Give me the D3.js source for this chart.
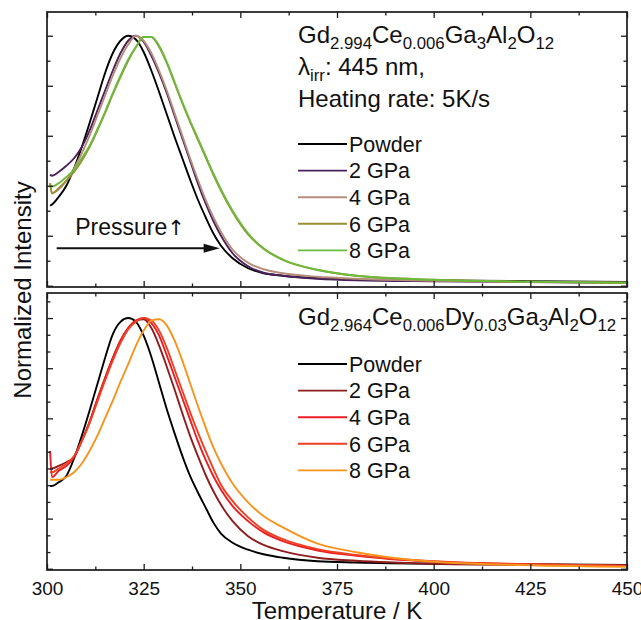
<!DOCTYPE html>
<html>
<head>
<meta charset="utf-8">
<script src="https://cdn.jsdelivr.net/npm/d3@7"></script>
<style>
  body { margin: 0; background: #fff; }
  text { font-family: "Liberation Sans", Arial, sans-serif; fill: #111; }
</style>
</head>
<body>
<script>
// temperature grid (K), shared by all curves
var temps = [300.8, 301.3, 303, 305, 307, 309, 311, 313, 315, 317, 319, 321, 323, 325, 327, 329,
             331, 333, 335, 337, 339, 341, 343, 345, 348, 352, 356, 361, 370, 380, 400, 425, 450];

// Gd2.994Ce0.006Ga3Al2O12
var topPowder = [0.32, 0.325, 0.355, 0.40, 0.47, 0.555, 0.65, 0.75, 0.85, 0.93, 0.98, 1.0, 0.985, 0.935, 0.86, 0.775,
                 0.685, 0.595, 0.51, 0.425, 0.345, 0.275, 0.21, 0.16, 0.11, 0.07, 0.05, 0.04, 0.03, 0.025, 0.022, 0.018, 0.015];
var top2GPa = [0.445, 0.44, 0.455, 0.48, 0.51, 0.555, 0.62, 0.70, 0.78, 0.86, 0.93, 0.98, 1.0, 0.975, 0.92, 0.85,
               0.77, 0.68, 0.59, 0.50, 0.41, 0.33, 0.26, 0.20, 0.13, 0.078, 0.052, 0.04, 0.028, 0.022, 0.018, 0.015, 0.012];
var top4GPa = [0.41, 0.37, 0.385, 0.42, 0.47, 0.53, 0.60, 0.68, 0.76, 0.84, 0.91, 0.965, 1.0, 0.98, 0.93, 0.86,
               0.78, 0.69, 0.60, 0.51, 0.425, 0.345, 0.275, 0.215, 0.145, 0.092, 0.066, 0.05, 0.036, 0.028, 0.02, 0.015, 0.012];
var top6GPa = [0.41, 0.37, 0.39, 0.42, 0.455, 0.50, 0.555, 0.62, 0.69, 0.765, 0.835, 0.90, 0.955, 0.995, 0.995, 0.955,
               0.89, 0.81, 0.73, 0.655, 0.585, 0.515, 0.445, 0.38, 0.295, 0.205, 0.148, 0.103, 0.063, 0.04, 0.024, 0.016, 0.012];
var top8GPa = [0.40, 0.397, 0.41, 0.435, 0.465, 0.51, 0.56, 0.625, 0.695, 0.77, 0.84, 0.905, 0.955, 0.995, 0.995, 0.96,
               0.895, 0.815, 0.735, 0.66, 0.59, 0.52, 0.45, 0.385, 0.30, 0.21, 0.15, 0.105, 0.064, 0.04, 0.024, 0.016, 0.012];

// Gd2.964Ce0.006Dy0.03Ga3Al2O12
var botPowder = [0.33, 0.33, 0.345, 0.37, 0.44, 0.53, 0.63, 0.735, 0.84, 0.935, 0.985, 1.0, 0.985, 0.93, 0.845, 0.74,
                 0.635, 0.54, 0.45, 0.37, 0.305, 0.245, 0.185, 0.14, 0.104, 0.076, 0.058, 0.044, 0.03, 0.025, 0.02, 0.018, 0.015];
var bot2GPa = [0.40, 0.40, 0.41, 0.425, 0.445, 0.51, 0.585, 0.675, 0.76, 0.84, 0.91, 0.96, 0.99, 0.995, 0.96, 0.89,
               0.805, 0.715, 0.62, 0.53, 0.45, 0.375, 0.31, 0.255, 0.19, 0.13, 0.095, 0.07, 0.044, 0.032, 0.02, 0.015, 0.012];
var bot4GPa = [0.47, 0.365, 0.39, 0.41, 0.445, 0.51, 0.585, 0.675, 0.76, 0.84, 0.91, 0.96, 0.99, 1.0, 0.98, 0.93,
               0.85, 0.765, 0.68, 0.595, 0.51, 0.435, 0.37, 0.315, 0.25, 0.19, 0.145, 0.11, 0.073, 0.052, 0.028, 0.017, 0.012];
var bot6GPa = [0.385, 0.385, 0.40, 0.42, 0.45, 0.51, 0.58, 0.665, 0.75, 0.83, 0.90, 0.955, 0.985, 1.0, 0.99, 0.95,
               0.88, 0.795, 0.71, 0.625, 0.545, 0.47, 0.40, 0.335, 0.27, 0.205, 0.155, 0.118, 0.078, 0.055, 0.03, 0.018, 0.012];
var bot8GPa = [0.355, 0.355, 0.355, 0.365, 0.385, 0.42, 0.47, 0.53, 0.60, 0.67, 0.745, 0.816, 0.89, 0.95, 0.99, 0.995,
               0.97, 0.91, 0.83, 0.74, 0.65, 0.565, 0.485, 0.42, 0.34, 0.265, 0.21, 0.165, 0.10, 0.066, 0.028, 0.014, 0.008];

var seriesNames = ["Powder", "2 GPa", "4 GPa", "6 GPa", "8 GPa"];
var xTicks = [300, 325, 350, 375, 400, 425, 450];

var topColors = ["#000000", "#4b2159", "#b68c7b", "#9a8f35", "#6dbb3c"];
var botColors = ["#000000", "#8e1d1d", "#ec1c24", "#ee4123", "#f7941d"];

var topTitle = [["Gd", 0], ["2.994", 1], ["Ce", 0], ["0.006", 1], ["Ga", 0], ["3", 1], ["Al", 0], ["2", 1], ["O", 0], ["12", 1]];
var botTitle = [["Gd", 0], ["2.964", 1], ["Ce", 0], ["0.006", 1], ["Dy", 0], ["0.03", 1], ["Ga", 0], ["3", 1], ["Al", 0], ["2", 1], ["O", 0], ["12", 1]];

var width = 641, height = 620;

var svg = d3.select("body").append("svg")
    .attr("width", width)
    .attr("height", height);

var x = d3.scaleLinear().domain([300, 450]).range([47, 627]);
var yTop = d3.scaleLinear().domain([-0.005, 1.095]).range([287, 12]);
var yBot = d3.scaleLinear().domain([-0.005, 1.1]).range([570, 293]);

var xMinor = d3.range(312.5, 450, 25);

function drawPanel(name, y, curves, colors, yMajor, yMinor, labels) {
    var y0 = y.range()[1], y1 = y.range()[0];
    var g = svg.append("g").attr("class", name);

    g.append("clipPath").attr("id", "clip-" + name)
      .append("rect").attr("x", x.range()[0]).attr("y", y0)
      .attr("width", x.range()[1] - x.range()[0]).attr("height", y1 - y0);

    var line = d3.line()
        .x(function(d) { return x(d[0]); })
        .y(function(d) { return y(d[1]); })
        .curve(d3.curveMonotoneX);

    // later series are drawn on top, like the original
    g.append("g").attr("clip-path", "url(#clip-" + name + ")")
      .selectAll("path")
      .data(curves)
      .enter().append("path")
        .attr("d", function(d) { return line(d3.zip(temps, d)); })
        .attr("fill", "none")
        .attr("stroke", function(d, i) { return colors[i]; })
        .attr("stroke-width", 1.9);

    // ticks, all pointing inward
    function addAxis(axis, tx, ty) {
        var a = g.append("g").attr("transform", "translate(" + tx + "," + ty + ")").call(axis);
        a.select(".domain").remove();
        a.selectAll("line").attr("stroke", "#1a1a1a").attr("stroke-width", 1.3);
        return a;
    }
    var none = function() { return ""; };
    addAxis(d3.axisLeft(y).tickValues(yMajor).tickSize(-6).tickFormat(none), x.range()[0], 0);
    addAxis(d3.axisLeft(y).tickValues(yMinor).tickSize(-3.5).tickFormat(none), x.range()[0], 0);
    addAxis(d3.axisRight(y).tickValues(yMajor).tickSize(-6).tickFormat(none), x.range()[1], 0);
    addAxis(d3.axisRight(y).tickValues(yMinor).tickSize(-3.5).tickFormat(none), x.range()[1], 0);
    addAxis(d3.axisTop(x).tickValues(xTicks).tickSize(-6).tickFormat(none), 0, y0);
    addAxis(d3.axisTop(x).tickValues(xMinor).tickSize(-3.5).tickFormat(none), 0, y0);
    addAxis(d3.axisBottom(x).tickValues(xMinor).tickSize(-3.5).tickFormat(none), 0, y1);
    var bx = addAxis(d3.axisBottom(x).tickValues(xTicks).tickSize(-6).tickPadding(12)
        .tickFormat(labels ? d3.format("d") : none), 0, y1);
    bx.selectAll("text")
        .style("font-family", "'Liberation Sans', Arial, sans-serif")
        .style("font-size", "19px")
        .attr("fill", "#111");

    // frame
    g.append("rect")
        .attr("x", x.range()[0]).attr("y", y0)
        .attr("width", x.range()[1] - x.range()[0]).attr("height", y1 - y0)
        .attr("fill", "none").attr("stroke", "#1a1a1a").attr("stroke-width", 1.7);
    return g;
}

function richText(g, parts, tx, ty, size, subSize) {
    var t = g.append("text").attr("x", tx).attr("y", ty).style("font-size", size + "px");
    var low = false;
    parts.forEach(function(p) {
        var s = t.append("tspan").text(p[0]);
        if (p[1]) {
            s.style("font-size", subSize + "px");
            if (!low) { s.attr("dy", 6); low = true; }
        } else if (low) {
            s.attr("dy", -6); low = false;
        }
    });
    return t;
}

function legend(g, colors, firstY) {
    colors.forEach(function(c, i) {
        var ly = firstY + i * 26.6;
        g.append("line")
            .attr("x1", 298).attr("x2", 347)
            .attr("y1", ly).attr("y2", ly)
            .attr("stroke", c).attr("stroke-width", 1.9);
        g.append("text")
            .attr("x", 349).attr("y", ly + 7.7)
            .style("font-size", "21.5px")
            .text(seriesNames[i]);
    });
}

var gTop = drawPanel("top", yTop, [topPowder, top2GPa, top4GPa, top6GPa, top8GPa], topColors,
    [0, 0.2, 0.4, 0.6, 0.8, 1.0], [0.1, 0.3, 0.5, 0.7, 0.9], false);
var gBot = drawPanel("bot", yBot, [botPowder, bot2GPa, bot4GPa, bot6GPa, bot8GPa], botColors,
    [0, 0.2, 0.4, 0.6, 0.8, 1.0], d3.range(1, 17).filter(function(k) { return k % 3; }).map(function(k) { return k / 15; }), true);

// top panel legend
richText(gTop, topTitle, 298, 43, 24, 16.8);
richText(gTop, [["\u03bb", 0], ["irr", 1], [": 445 nm,", 0]], 298, 75, 24, 16.8);
gTop.append("text").attr("x", 298).attr("y", 107).style("font-size", "24px").text("Heating rate: 5K/s");
legend(gTop, topColors, 144);

// pressure arrow
gTop.append("line")
    .attr("x1", x(302.5)).attr("x2", x(341))
    .attr("y1", yTop(0.15)).attr("y2", yTop(0.15))
    .attr("stroke", "#111").attr("stroke-width", 1.8);
gTop.append("path")
    .attr("d", "M" + x(340.5) + "," + (yTop(0.15) - 4.5) + "L" + x(344.7) + "," + yTop(0.15) +
               "L" + x(340.5) + "," + (yTop(0.15) + 4.5) + "Z")
    .attr("fill", "#111");
var pt = gTop.append("text").attr("x", x(307.3)).attr("y", 235).style("font-size", "23px");
pt.append("tspan").text("Pressure");
pt.append("tspan")
    .style("font-family", "'DejaVu Sans', sans-serif")
    .style("font-size", "21px")
    .attr("fill", "#111")
    .text("\u2191");

// bottom panel legend
richText(gBot, botTitle, 298, 325, 24, 16.8);
legend(gBot, botColors, 364);

// axis titles
svg.append("text")
    .attr("x", 337).attr("y", 619)
    .attr("text-anchor", "middle")
    .style("font-size", "24px")
    .text("Temperature / K");

svg.append("text")
    .attr("transform", "translate(31,290) rotate(-90)")
    .attr("text-anchor", "middle")
    .style("font-size", "24px")
    .text("Normalized Intensity");
</script>
</body>
</html>
